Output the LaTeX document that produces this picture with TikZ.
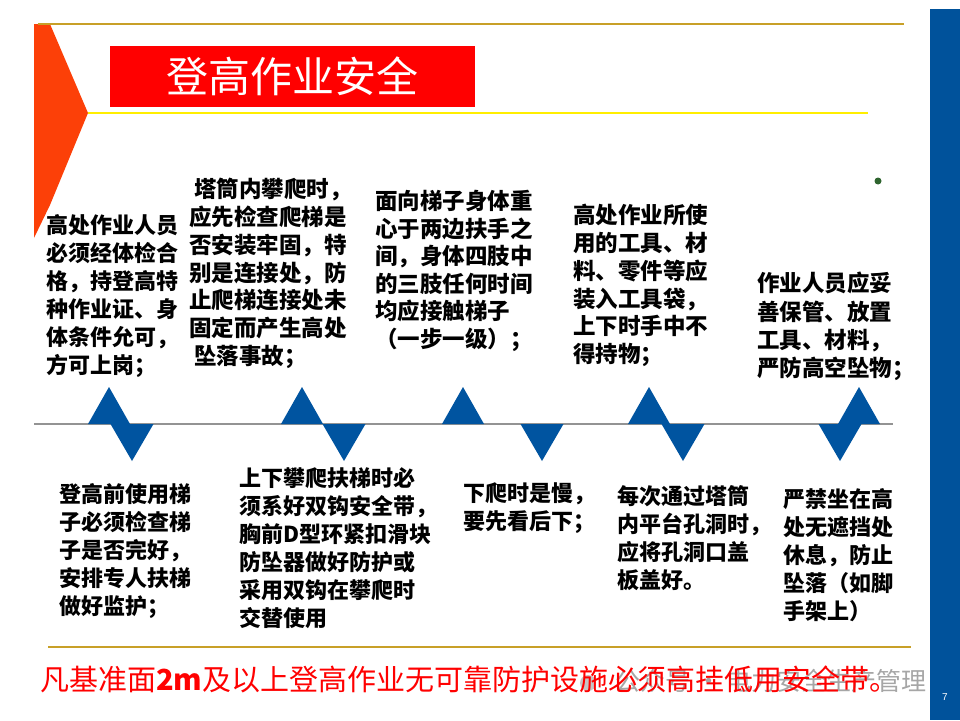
\documentclass[tikz,border=0pt]{standalone}
\usepackage{fontspec}
\newfontfamily\cjk{Noto Sans CJK SC}
\setsansfont{Liberation Sans}
\definecolor{gold}{RGB}{200,160,40}
\definecolor{yel}{RGB}{255,238,0}
\definecolor{orng}{RGB}{252,64,8}
\definecolor{tblue}{RGB}{0,84,160}
\definecolor{barblue}{RGB}{0,82,155}
\definecolor{dotgreen}{RGB}{46,100,46}
\tikzset{
  body/.style={anchor=north west, inner sep=0pt, align=left, text=black,
    font=\cjk\bfseries\fontsize{22}{28}\selectfont},
  upt/.style={fill=tblue},
}
\begin{document}
\begin{tikzpicture}[x=1pt,y=-1pt]
\useasboundingbox (0,0) rectangle (960,720);
\fill[white] (0,0) rectangle (960,720);
% right blue bar
\fill[barblue] (930,9) rectangle (960,720);
\node[text=white, font=\sffamily\fontsize{10}{12}\selectfont] (pg) at (945,697) {7};
% left orange arrow shape
\fill[orng] (34,24) -- (50,24) -- (88,113) -- (50,205) -- (34,238) -- cycle;
% top lines
\draw[gold, line width=2.2pt] (38,24) -- (904,24);
\draw[yel, line width=2pt] (88,113) -- (868,113);
% title
\fill[red] (110,46) rectangle (475,107);
\node[text=white, font=\cjk\fontsize{42}{46}\selectfont] (title) at (292,76) {登高作业安全};
% dot
\fill[dotgreen] (878,181) circle (3.5);
% timeline
\draw[gray!85, line width=1.4pt] (34,424) -- (893,424);
\foreach \x in {109,302,463,649,859}
  \fill[upt] (\x,387) -- (\x+21,424) -- (\x-21,424) -- cycle;
\foreach \x in {132,344,542,683,840}
  \fill[upt] (\x-21.5,424) -- (\x+21.5,424) -- (\x,461) -- cycle;
% top texts
\node[body] (t1) at (46,214) {高处作业人员\\必须经体检合\\格，持登高特\\种作业证、身\\体条件允可，\\方可上岗；};
\node[body, font=\cjk\bfseries\fontsize{22.5}{27.8}\selectfont] (t2) at (189,178) {\hspace*{5pt}塔筒内攀爬时，\\应先检查爬梯是\\否安装牢固，特\\别是连接处，防\\止爬梯连接处未\\固定而产生高处\\\hspace*{5pt}坠落事故；};
\node[body, font=\cjk\bfseries\fontsize{22.5}{27.5}\selectfont] (t3) at (375,190) {面向梯子身体重\\心于两边扶手之\\间，身体四肢中\\的三肢任何时间\\均应接触梯子\\（一步一级）；};
\node[body, font=\cjk\bfseries\fontsize{22.5}{27.8}\selectfont] (t4) at (573,204) {高处作业所使\\用的工具、材\\料、零件等应\\装入工具袋，\\上下时手中不\\得持物；};
\node[body, font=\cjk\bfseries\fontsize{22.5}{28.3}\selectfont] (t5) at (757,272) {作业人员应妥\\善保管、放置\\工具、材料，\\严防高空坠物；};
% bottom texts
\node[body] (b1) at (59,483) {登高前使用梯\\子必须检查梯\\子是否完好，\\安排专人扶梯\\做好监护；};
\node[body] (b2) at (239,467) {上下攀爬扶梯时必\\须系好双钩安全带，\\胸前D型环紧扣滑块\\防坠器做好防护或\\采用双钩在攀爬时\\交替使用};
\node[body] (b3) at (463,482) {下爬时是慢，\\要先看后下；};
\node[body] (b4) at (617,485) {每次通过塔筒\\内平台孔洞时，\\应将孔洞口盖\\板盖好。};
\node[body] (b5) at (783,488) {严禁坐在高\\处无遮挡处\\休息，防止\\坠落（如脚\\手架上）};
% bottom line
\draw[gold, line width=2.2pt] (48,647) -- (911,647);
% watermark
\fill[gray!45] (588,683) circle (8);
\node[anchor=east, text=gray!70, font=\cjk\fontsize{25}{28}\selectfont, inner sep=0pt] (wm) at (927,681) {公众号 · 电力安全生产管理};
% red statement
\node[anchor=west, text=red, font=\cjk\fontsize{29}{32}\selectfont, inner sep=0pt] (stmt) at (40,679) {凡基准面\textbf{2m}及以上登高作业无可靠防护设施必须高挂低用安全带。};
\end{tikzpicture}
\end{document}
